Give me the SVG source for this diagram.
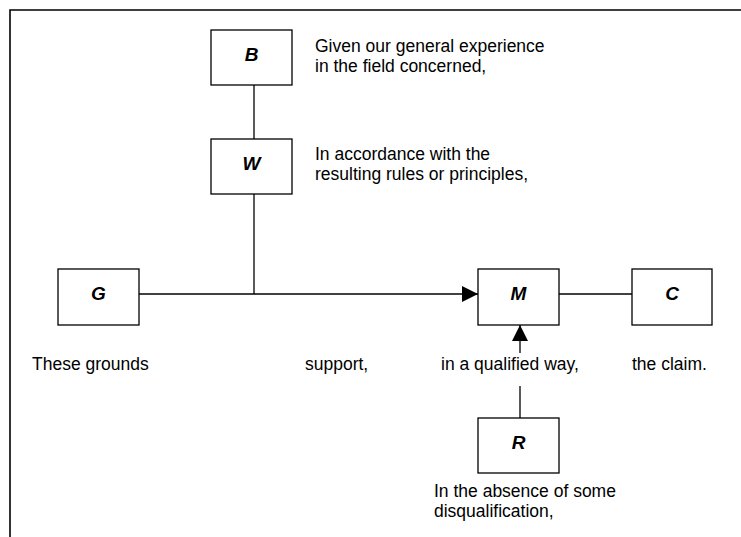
<svg xmlns="http://www.w3.org/2000/svg" width="741" height="537" viewBox="0 0 741 537">
  <style>
    .box { fill: #ffffff; stroke: #000000; stroke-width: 1.3; }
    .wire { fill: none; stroke: #000000; stroke-width: 1.3; }
    .frame { fill: none; stroke: #000000; stroke-width: 1.6; }
    .letter { font-family: "Liberation Sans", Arial, sans-serif; font-size: 19px; font-weight: bold; font-style: italic; text-anchor: middle; fill: #000000; }
    .note { font-family: "Liberation Sans", Arial, sans-serif; font-size: 17.5px; fill: #000000; }
  </style>
  <defs>
    <marker id="head" viewBox="0 0 16 16" refX="16" refY="8" markerWidth="16" markerHeight="16" markerUnits="userSpaceOnUse" orient="auto">
      <path d="M0,0 L16,8 L0,16 Z" fill="#000000"/>
    </marker>
  </defs>

  <rect width="741" height="537" fill="#ffffff"/>

  <!-- page frame: left and top edges only -->
  <path class="frame" d="M10,537 L10,10 L741,10"/>

  <!-- connectors -->
  <g id="connectors">
    <line class="wire" x1="254" y1="85" x2="254" y2="139"/>
    <line class="wire" x1="254" y1="194" x2="254" y2="294"/>
    <line class="wire" x1="139" y1="294" x2="478" y2="294" marker-end="url(#head)"/>
    <line class="wire" x1="559" y1="294" x2="632" y2="294"/>
    <line class="wire" x1="520" y1="353" x2="520" y2="325" marker-end="url(#head)"/>
    <line class="wire" x1="520" y1="386" x2="520" y2="418"/>
  </g>

  <g id="node-B">
    <rect class="box" x="211" y="30" width="81" height="55"/>
    <text class="letter" x="251.5" y="61">B</text>
  </g>
  <g id="node-W">
    <rect class="box" x="211" y="139" width="81" height="55"/>
    <text class="letter" x="251.5" y="170">W</text>
  </g>
  <g id="node-G">
    <rect class="box" x="58" y="269" width="81" height="56"/>
    <text class="letter" x="98.5" y="299.5">G</text>
  </g>
  <g id="node-M">
    <rect class="box" x="478" y="269" width="81" height="56"/>
    <text class="letter" x="518.5" y="299.5">M</text>
  </g>
  <g id="node-C">
    <rect class="box" x="632" y="269" width="80" height="56"/>
    <text class="letter" x="672" y="299.5">C</text>
  </g>
  <g id="node-R">
    <rect class="box" x="478" y="418" width="81" height="55"/>
    <text class="letter" x="518.5" y="448.5">R</text>
  </g>

  <!-- reading of each element -->
  <g id="labels">
    <text class="note" x="315" y="52">Given our general experience</text>
    <text class="note" x="315" y="72">in the field concerned,</text>
    <text class="note" x="315" y="160">In accordance with the</text>
    <text class="note" x="315" y="180">resulting rules or principles,</text>
    <text class="note" x="32" y="370">These grounds</text>
    <text class="note" x="305" y="370">support,</text>
    <text class="note" x="441" y="370">in a qualified way,</text>
    <text class="note" x="632" y="370">the claim.</text>
    <text class="note" x="434" y="497">In the absence of some</text>
    <text class="note" x="434" y="517">disqualification,</text>
  </g>
</svg>
